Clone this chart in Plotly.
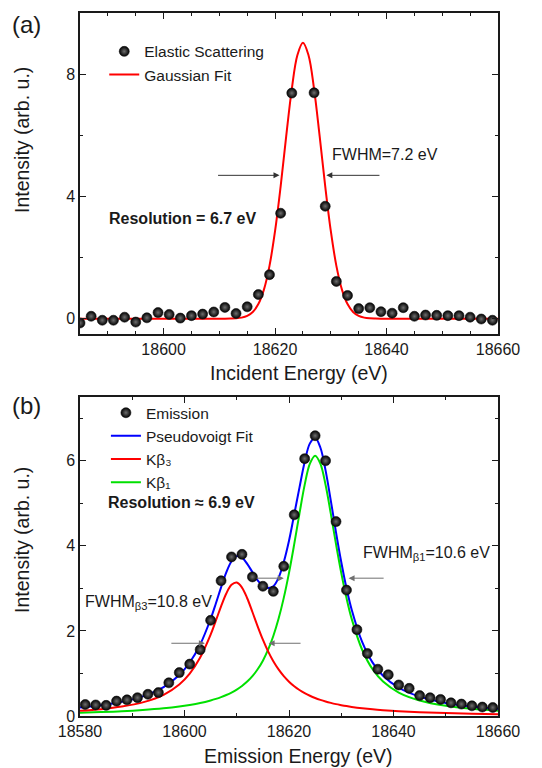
import plotly.graph_objects as go

# ---------------- Panel (a) data ----------------
elastic_x = [18585, 18587, 18589, 18591, 18593, 18595, 18597, 18599, 18601, 18603,
             18605, 18607, 18609, 18611, 18613, 18615, 18617, 18619, 18621, 18623,
             18627, 18629, 18631, 18633, 18635, 18637, 18639, 18641, 18643, 18645,
             18647, 18649, 18651, 18653, 18655, 18657, 18659]
elastic_y = [-0.14, 0.08, -0.05, -0.05, 0.05, -0.11, 0.03, 0.20, 0.14, 0.02,
             0.10, 0.15, 0.22, 0.37, 0.17, 0.39, 0.79, 1.44, 3.45, 7.38,
             7.39, 3.68, 1.22, 0.76, 0.33, 0.36, 0.23, 0.18, 0.36, 0.08,
             0.12, 0.11, 0.10, 0.10, 0.05, -0.01, -0.05]

gauss_x = [18585, 18595, 18605, 18611, 18612, 18613, 18614, 18615, 18616, 18617,
           18618, 18619, 18620, 18621, 18622, 18623, 18624, 18625, 18626, 18627,
           18628, 18629, 18630, 18631, 18632, 18633, 18634, 18635, 18636, 18637,
           18638, 18639, 18645, 18652, 18660]
gauss_y = [0.0, 0.0, 0.0, 0.001, 0.004, 0.012, 0.035, 0.092, 0.219, 0.478,
           0.952, 1.73, 2.87, 4.33, 5.97, 7.51, 8.62, 9.03, 8.62, 7.51,
           5.97, 4.33, 2.87, 1.73, 0.952, 0.478, 0.219, 0.092, 0.035, 0.012,
           0.004, 0.001, 0.0, 0.0, 0.0]

# ---------------- Panel (b) data ----------------
emission_x = [18581, 18583, 18585, 18587, 18589, 18591, 18593, 18595, 18597, 18599,
              18601, 18603, 18605, 18607, 18609, 18611, 18613, 18615, 18617, 18619,
              18621, 18623, 18625, 18627, 18629, 18631, 18633, 18635, 18637, 18639,
              18641, 18643, 18645, 18647, 18649, 18651, 18653, 18655, 18657, 18659]
emission_y = [0.27, 0.26, 0.25, 0.35, 0.38, 0.43, 0.51, 0.55, 0.78, 1.02,
              1.22, 1.56, 2.25, 3.18, 3.74, 3.80, 3.27, 3.05, 2.93, 3.52,
              4.73, 6.05, 6.59, 6.00, 4.57, 2.96, 2.03, 1.47, 1.10, 0.97,
              0.73, 0.65, 0.48, 0.43, 0.39, 0.31, 0.28, 0.24, 0.21, 0.20]

fit_x = [18580, 18584, 18588, 18592, 18596, 18599, 18601, 18603, 18605, 18606,
         18607, 18608, 18609, 18610, 18611, 18612, 18613, 18614, 18615, 18616,
         18617, 18618, 18619, 18620, 18621, 18622, 18623, 18624, 18625, 18626,
         18627, 18628, 18629, 18630, 18631, 18632, 18634, 18636, 18638, 18641,
         18645, 18650, 18655, 18660]
pv_fit = [0.199, 0.253, 0.333, 0.461, 0.680, 0.964, 1.257, 1.681, 2.281, 2.644,
          3.023, 3.375, 3.637, 3.759, 3.725, 3.577, 3.382, 3.19, 3.06, 3.01,
          3.05, 3.25, 3.62, 4.12, 4.739, 5.368, 5.971, 6.409, 6.543, 6.312,
          5.774, 5.064, 4.318, 3.621, 3.010, 2.498, 1.740, 1.254, 0.945, 0.664,
          0.455, 0.308, 0.223, 0.169]
kb3 = [0.122, 0.161, 0.221, 0.320, 0.499, 0.741, 0.997, 1.375, 1.915, 2.241,
       2.578, 2.881, 3.085, 3.137, 3.019, 2.768, 2.445, 2.107, 1.793, 1.518,
       1.287, 1.095, 0.937, 0.807, 0.700, 0.612, 0.538, 0.476, 0.423, 0.379,
       0.341, 0.308, 0.279, 0.255, 0.233, 0.214, 0.182, 0.156, 0.136, 0.112,
       0.089, 0.068, 0.054, 0.044]
kb1 = [0.077, 0.092, 0.112, 0.141, 0.181, 0.223, 0.260, 0.306, 0.366, 0.403,
       0.445, 0.494, 0.552, 0.622, 0.706, 0.809, 0.937, 1.098, 1.301, 1.558,
       1.881, 2.284, 2.777, 3.366, 4.039, 4.756, 5.433, 5.933, 6.120, 5.933,
       5.433, 4.756, 4.039, 3.366, 2.777, 2.284, 1.558, 1.098, 0.809, 0.552,
       0.366, 0.240, 0.169, 0.125]

FONT = "Liberation Sans, Arial, sans-serif"
INK = "#1a1a1a"
ball = dict(color="black", size=10, gradient=dict(type="radial", color="#6e6e6e"),
            line=dict(width=0.6, color="#111111"))

fig = go.Figure()

# Panel (a)
fig.add_trace(go.Scatter(x=gauss_x, y=gauss_y, mode="lines", name="Gaussian Fit",
                         line=dict(color="#ff0000", width=2, shape="spline"),
                         xaxis="x", yaxis="y", legend="legend", legendrank=2))
fig.add_trace(go.Scatter(x=elastic_x, y=elastic_y, mode="markers", name="Elastic Scattering",
                         marker=ball, xaxis="x", yaxis="y", legend="legend", legendrank=1))

# Panel (b)
fig.add_trace(go.Scatter(x=fit_x, y=kb1, mode="lines", name="Kβ₁",
                         line=dict(color="#00e000", width=2, shape="spline"),
                         xaxis="x2", yaxis="y2", legend="legend2", legendrank=4))
fig.add_trace(go.Scatter(x=fit_x, y=kb3, mode="lines", name="Kβ₃",
                         line=dict(color="#ff0000", width=2, shape="spline"),
                         xaxis="x2", yaxis="y2", legend="legend2", legendrank=3))
fig.add_trace(go.Scatter(x=fit_x, y=pv_fit, mode="lines", name="Pseudovoigt Fit",
                         line=dict(color="#0000ff", width=2, shape="spline"),
                         xaxis="x2", yaxis="y2", legend="legend2", legendrank=2))
fig.add_trace(go.Scatter(x=emission_x, y=emission_y, mode="markers", name="Emission",
                         marker=ball, xaxis="x2", yaxis="y2", legend="legend2", legendrank=1))

def axis_style(**kw):
    d = dict(showline=True, linecolor=INK, linewidth=1.5, mirror="ticks",
             ticks="inside", ticklen=6, tickwidth=1.2, tickcolor=INK,
             showgrid=False, zeroline=False,
             tickfont=dict(family=FONT, size=16, color=INK),
             minor=dict(ticks="inside", ticklen=3, tickwidth=1.2, tickcolor=INK, showgrid=False))
    d.update(kw)
    return d

xa = axis_style(domain=[0, 1], anchor="y", range=[18585, 18660], tick0=18600, dtick=20,
                tickformat="d")
xa["minor"]["dtick"] = 5
ya = axis_style(domain=[0.5434, 1], anchor="x", range=[-0.5, 10], tick0=0, dtick=4)
ya["minor"]["dtick"] = 2
xb = axis_style(domain=[0, 1], anchor="y2", range=[18580, 18660], tick0=18580, dtick=20,
                tickformat="d")
xb["minor"]["dtick"] = 10
yb = axis_style(domain=[0, 0.4538], anchor="x2", range=[0, 7.5], tick0=0, dtick=2)
yb["minor"]["dtick"] = 1

leg_common = dict(xanchor="left", yanchor="top", bgcolor="rgba(0,0,0,0)",
                  font=dict(family=FONT, size=15.5, color=INK), tracegroupgap=0,
                  borderwidth=0)

fig.update_layout(
    width=542, height=768,
    margin=dict(l=80, r=44, t=13, b=52),
    paper_bgcolor="white", plot_bgcolor="white",
    font=dict(family=FONT, size=16, color=INK),
    xaxis=xa, yaxis=ya, xaxis2=xb, yaxis2=yb,
    showlegend=True,
    legend=dict(x=0.058, y=0.969, **leg_common),
    legend2=dict(x=0.062, y=0.455, **leg_common),
)

ann = []
def ptext(text, x, y, size=20, **kw):
    ann.append(dict(text=text, x=x, y=y, xref="paper", yref="paper", showarrow=False,
                    font=dict(family=FONT, size=size, color=INK), **kw))

# titles (paper coords)
ptext("Intensity (arb. u.)", -0.1388, 0.8193, size=19.5, textangle=-90,
      xanchor="center", yanchor="middle")
ptext("Intensity (arb. u.)", -0.1388, 0.2504, size=19.5, textangle=-90,
      xanchor="center", yanchor="middle")
ptext("Incident Energy (eV)", 0.5239, 0.4879, size=19.5, xanchor="center", yanchor="middle")
ptext("Emission Energy (eV)", 0.5239, -0.0569, size=19.5, xanchor="center", yanchor="middle")
ptext("(a)", -0.1268, 0.983, size=24, xanchor="center", yanchor="middle")
ptext("(b)", -0.1268, 0.441, size=24, xanchor="center", yanchor="middle")

def dtext(text, x, y, xr, yr, bold=False):
    ann.append(dict(text=("<b>%s</b>" % text) if bold else text, x=x, y=y, xref=xr, yref=yr,
                    showarrow=False, xanchor="left", yanchor="middle",
                    font=dict(family=FONT, size=16, color=INK)))

dtext("FWHM=7.2 eV", 18629.9, 5.36, "x", "y")
dtext("Resolution = 6.7 eV", 18589.8, 3.28, "x", "y", bold=True)
dtext("Resolution ≈ 6.9 eV", 18585.0, 5.01, "x2", "y2", bold=True)
dtext("FWHM<sub>β3</sub>=10.8 eV", 18580.6, 2.67, "x2", "y2")
dtext("FWHM<sub>β1</sub>=10.6 eV", 18633.8, 3.82, "x2", "y2")

def arrow(x_tip, x_tail, y, xr, yr, color):
    ann.append(dict(text="", x=x_tip, y=y, ax=x_tail, ay=y, xref=xr, yref=yr,
                    axref=xr, ayref=yr, showarrow=True, arrowhead=2, arrowsize=1.2,
                    arrowwidth=1, arrowcolor=color, standoff=0, startstandoff=0))

arrow(18620.8, 18609.5, 4.69, "x", "y", "#333333")
arrow(18629.2, 18639.0, 4.69, "x", "y", "#333333")
arrow(18603.9, 18597.2, 1.71, "x2", "y2", "#707070")
arrow(18616.1, 18622.5, 1.71, "x2", "y2", "#707070")
arrow(18619.0, 18613.5, 3.24, "x2", "y2", "#707070")
arrow(18631.4, 18638.4, 3.24, "x2", "y2", "#707070")

fig.update_layout(annotations=ann)
fig.write_html("out.html")
